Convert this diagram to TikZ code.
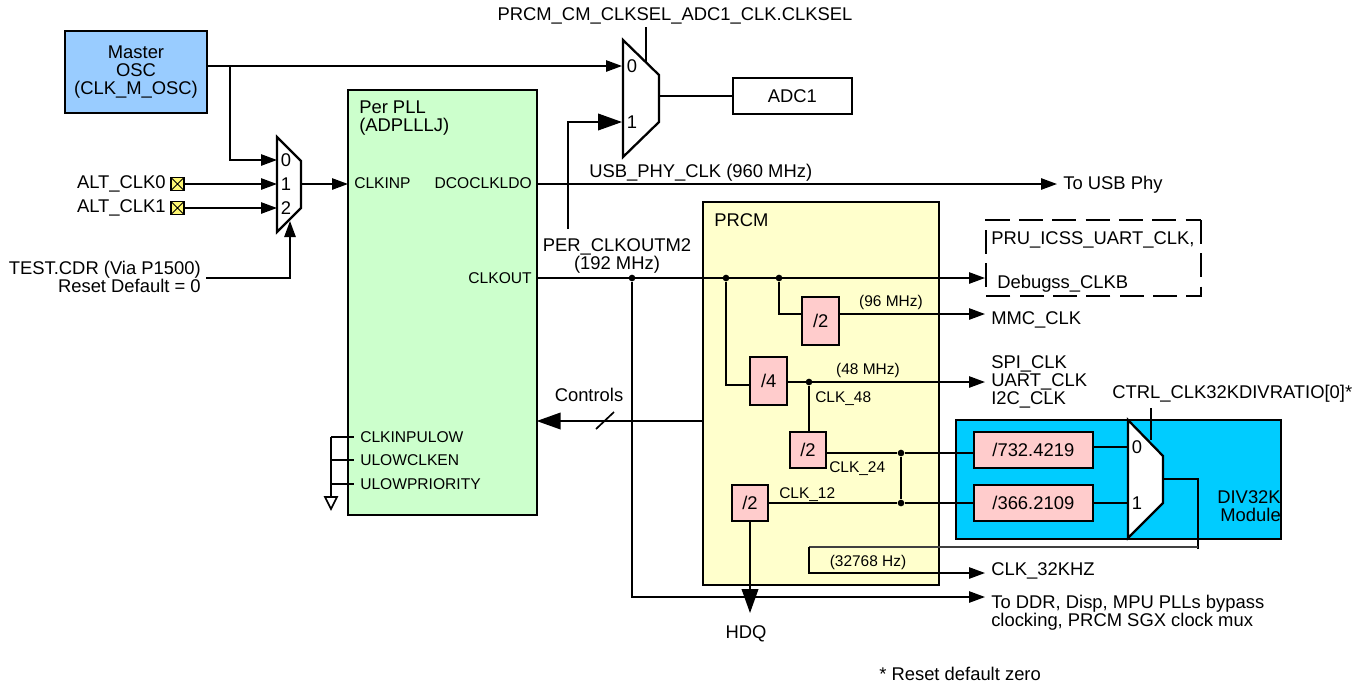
\documentclass[tikz,border=0pt]{standalone}
\usepackage{fontspec}
\setmainfont{Liberation Sans}
\usetikzlibrary{arrows.meta}
\definecolor{oscblue}{HTML}{99CCFF}
\definecolor{pllgreen}{HTML}{CCFFCC}
\definecolor{prcmyellow}{HTML}{FFFFCC}
\definecolor{divpink}{HTML}{FFCCCC}
\definecolor{modcyan}{HTML}{00CCFF}
\tikzset{
  block/.style   = {draw, line width=1.7pt, rectangle, anchor=north west, inner sep=0pt,
                    outer sep=0pt, align=center},
  divbox/.style  = {block, fill=divpink},
  muxbody/.style = {draw, fill=white, line width=1.7pt, line join=miter},
  lbl/.style     = {inner sep=0pt, font=\fontsize{13.8}{13.5}\selectfont},
  pinlbl/.style  = {inner sep=0pt, font=\fontsize{11.7}{13}\selectfont},
  rate/.style    = {inner sep=0pt, font=\fontsize{11.6}{13}\selectfont},
  pickoff/.style = {fill, circle, inner sep=0pt, minimum size=5pt},
  padbox/.style  = {draw, fill=yellow!55, line width=1.1pt, inner sep=0pt, minimum size=9.5pt,
                    path picture={\draw[line width=.6pt]
                      (path picture bounding box.north west) -- (path picture bounding box.south east)
                      (path picture bounding box.north east) -- (path picture bounding box.south west);}},
  wire/.style    = {line width=1.25pt},
  sig/.style     = {wire, -{Triangle[length=12pt,width=8.5pt]}},
  bigsig/.style  = {wire, -{Triangle[length=18pt,width=12.5pt]}},
}
\begin{document}
\begin{tikzpicture}[x=0.75pt,y=-0.75pt]
\useasboundingbox (0,0) rectangle (1366,683);
% filled blocks
\node[block, fill=oscblue, minimum width=106.5pt, minimum height=61.5pt] (osc) at (65,31) {};
\node[lbl, align=center] (osctxt) at (136,72) {Master\\OSC\\(CLK\_M\_OSC)};
\node[block, fill=pllgreen, minimum width=141.5pt, minimum height=319pt] (pll) at (348,90) {};
\node[lbl, align=left, anchor=west] (plltxt) at (359,118) {Per PLL\\(ADPLLLJ)};
\node[block, fill=prcmyellow, minimum width=177pt, minimum height=287pt] (prcm) at (703,202) {};
\node[lbl, anchor=west] (prcmtxt) at (714,220) {PRCM};
\node[block, fill=modcyan, minimum width=243.5pt, minimum height=89pt] (div32k) at (956,420) {};
\node[block, lbl, minimum width=89pt, minimum height=27pt, line width=1.4pt] (adc) at (733,78) {ADC1};
\node[lbl, align=right, anchor=east] (divtxt) at (1281,506) {DIV32K\\Module};
\draw[dashed, dash pattern=on 18pt off 7pt, line width=1.25pt] (1201,220) rectangle (986,296);
% dividers
\node[divbox, minimum width=28pt, minimum height=36pt, lbl] (d96) at (802,297) {/2};
\node[divbox, minimum width=28pt, minimum height=36pt, lbl] (d48) at (750,357) {/4};
\node[divbox, minimum width=27pt, minimum height=27pt, lbl] (d24) at (790,432) {/2};
\node[divbox, minimum width=27pt, minimum height=27pt, lbl] (d12) at (732,485) {/2};
\node[divbox, minimum width=89pt, minimum height=27pt, lbl] (d732) at (974,432) {/732.4219};
\node[divbox, minimum width=89pt, minimum height=27pt, lbl] (d366) at (974,485) {/366.2109};
% muxes
\draw[muxbody] (277,137) -- (301,161) -- (301,208) -- (277,232) -- cycle;
\draw[muxbody] (623,40) -- (659,75) -- (659,122) -- (623,157) -- cycle;
\draw[muxbody] (1128,420) -- (1163,456) -- (1163,503) -- (1128,538) -- cycle;
\coordinate (a0) at (277,160);
\coordinate (a1) at (277,184);
\coordinate (a2) at (277,208);
\coordinate (asel) at (290,221);
\coordinate (aout) at (301,184);
\coordinate (b0) at (622,66);
\coordinate (b1) at (622,122);
\coordinate (bsel) at (646,62);
\coordinate (bseltop) at (646,27);
\coordinate (bout) at (659,96);
\coordinate (c0) at (1128,447);
\coordinate (c1) at (1128,503);
\coordinate (csel) at (1151,440);
\coordinate (cseltop) at (1151,408);
\coordinate (cout) at (1163,479);
\foreach \n/\x/\y/\t in {ma0/286/160/0, ma1/286/184/1, ma2/286/208/2, mb0/632/66/0, mb1/632/122/1,
                         mc0/1137/447/0, mc1/1137/503/1}
  \node[lbl] (\n) at (\x,\y) {\t};
% pads and left inputs
\node[padbox] (pad0) at (177.5,184) {};
\node[padbox] (pad1) at (177.5,208) {};
\node[lbl, anchor=east] (alt0) at (166,184) {ALT\_CLK0};
\node[lbl, anchor=east] (alt1) at (166,208) {ALT\_CLK1};
\node[lbl, align=right, anchor=east] (cdr) at (201,277) {TEST.CDR (Via P1500)\\Reset Default = 0};
\draw[sig] (pad0) -- (a1);
\draw[sig] (pad1) -- (a2);
\draw[sig] (206,278) -| (asel);
\draw[sig] (aout) -- (aout -| pll.west);
\draw[sig] (osc.east |- b0) -- (b0);
\coordinate (oscjoin) at (230,66);
\draw[sig] (oscjoin) |- (a0);
\draw[wire] (bseltop) -- (bsel);
\draw[wire] (bout) -- (bout -| adc.west);
% pll pins
\node[pinlbl, anchor=west] (clkinp) at (354,183) {CLKINP};
\node[pinlbl, anchor=east] (dco) at (532,183) {DCOCLKLDO};
\node[pinlbl, anchor=east] (clkout) at (532,278) {CLKOUT};
\foreach \n/\y/\t in {lowa/437/CLKINPULOW, lowb/460/ULOWCLKEN, lowc/484/ULOWPRIORITY}{
  \node[pinlbl, anchor=west] (\n) at (360,\y) {\t};
  \draw[wire] (331,\y) -- (354,\y);
}
\coordinate (gnd) at (331,497);
\draw[wire] (331,437) -- (gnd);
\draw[wire, fill=white] (325,497) -- (337,497) -- (331,509) -- cycle;
% outgoing clocks
\node[lbl, anchor=west] (usbtxt) at (589,173) {USB\_PHY\_CLK (960 MHz)};
\coordinate (usbend) at (1057,184);
\node[lbl, anchor=west] (usbphy) at (1063,185) {To USB Phy};
\draw[sig] (pll.east |- usbend) -- (usbend);
\node[lbl, align=center] (pertxt) at (617,256) {PER\_CLKOUTM2\\(192 MHz)};
\draw[bigsig] (568,229) |- (b1);
\coordinate (outdash) at (985,278);
\draw[sig] (pll.east |- outdash) -- (outdash);
\node[pickoff] (j1) at (632,278) {};
\node[pickoff] (j2) at (726,278) {};
\node[pickoff] (j3) at (779,278) {};
\draw[wire] (j3) |- (d96.west |- 0,314);
\draw[wire] (j2) |- (d48.west |- 0,385);
\node[lbl, anchor=west] (pru) at (991,240) {PRU\_ICSS\_UART\_CLK,};
\node[lbl, anchor=west] (debug) at (997,284) {Debugss\_CLKB};
\coordinate (mmcend) at (985,314);
\draw[sig] (d96.east |- mmcend) -- (mmcend);
\node[rate] (r96) at (891,302) {(96 MHz)};
\node[lbl, anchor=west] (mmc) at (991,320) {MMC\_CLK};
\coordinate (spiend) at (985,382);
\draw[sig] (d48.east |- spiend) -- (spiend);
\node[rate] (r48) at (868,370) {(48 MHz)};
\node[lbl, align=left, anchor=west] (spi) at (991,382) {SPI\_CLK\\UART\_CLK\\I2C\_CLK};
\node[pickoff] (j4) at (809,382) {};
\draw[wire] (j4) -- (d24.north -| j4);
\node[rate, anchor=west] (c48) at (815,399) {CLK\_48};
\node[pickoff] (j5) at (901,453) {};
\node[pickoff] (j6) at (901,503) {};
\draw[wire] (d24.east |- j5) -- (j5) -- (j5 -| d732.west);
\draw[wire] (d12.east |- j6) -- (j6) -- (j6 -| d366.west);
\draw[wire] (j5) -- (j6);
\node[rate, anchor=west] (c24) at (829,469) {CLK\_24};
\node[rate, anchor=west] (c12) at (779,495) {CLK\_12};
\draw[wire] (d732.east |- c0) -- (c0);
\draw[wire] (d366.east |- c1) -- (c1);
\draw[wire] (cseltop) -- (csel);
\node[lbl, anchor=west] (ctrl) at (1112,394) {CTRL\_CLK32KDIVRATIO[0]*};
% 32k path
\draw[wire] (cout) -| (1198,549);
\draw[wire, black!75] (809,547) -- (1198,547);
\coordinate (khzend) at (985,573);
\draw[sig] (809,547) |- (khzend);
\node[rate] (r32) at (868,562) {(32768 Hz)};
\node[lbl, anchor=west] (khz) at (991,571) {CLK\_32KHZ};
% bottom
\draw[bigsig] (d12.south) -- (750,613);
\node[lbl] (hdq) at (746,634) {HDQ};
\coordinate (ddrend) at (985,597);
\draw[sig] (j1) |- (ddrend);
\node[lbl, align=left, anchor=west] (ddr) at (991,613) {To DDR, Disp, MPU PLLs bypass\\clocking, PRCM SGX clock mux};
\node[lbl, anchor=west] (note) at (879,674) {* Reset default zero};
% controls
\node[lbl] (ctltxt) at (589,395) {Controls};
\draw[bigsig] (prcm.west |- 0,421) -- (pll.east |- 0,421);
\coordinate (ticka) at (596,429);
\coordinate (tickb) at (614,412);
\draw[wire] (ticka) -- (tickb);
\node[lbl] (seltxt) at (675,16) {PRCM\_CM\_CLKSEL\_ADC1\_CLK.CLKSEL};
\end{tikzpicture}
\end{document}
